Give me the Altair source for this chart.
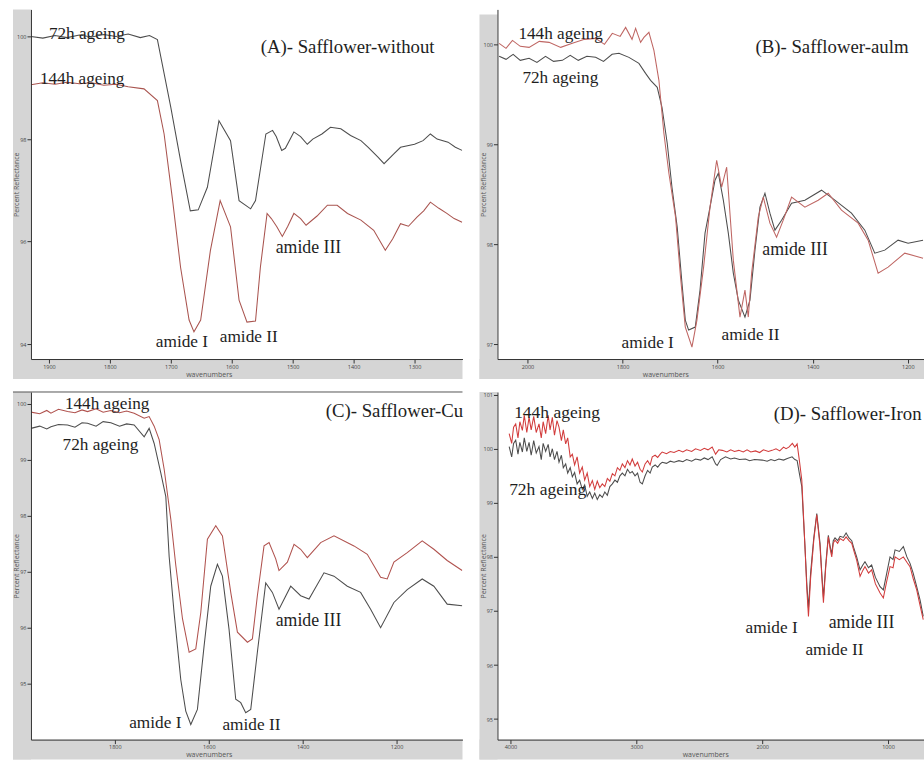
import altair as alt
import pandas as pd

# ---------------- data (wavenumber, percent reflectance) ----------------
A_72 = [(1929.5, 100.0), (1910, 99.97), (1890, 100.02), (1870, 99.98), (1850, 100.03), (1830, 99.99),
        (1810, 100.04), (1790, 100.0), (1770, 100.05), (1750, 99.98), (1735, 100.02), (1722, 99.94),
        (1700, 98.62), (1684, 97.58), (1668, 96.6), (1655, 96.62), (1640, 97.06), (1621, 98.36),
        (1602, 97.97), (1588, 96.8), (1569, 96.64), (1561, 96.8), (1544, 98.1), (1533, 98.17),
        (1527, 98.05), (1518, 97.78), (1512, 97.82), (1498, 98.14), (1487, 98.05), (1476, 97.9),
        (1467, 98.0), (1452, 98.1), (1438, 98.23), (1421, 98.2), (1405, 98.07), (1388, 97.97),
        (1376, 97.84), (1360, 97.65), (1350, 97.52), (1334, 97.71), (1323, 97.84), (1300, 97.9),
        (1286, 97.97), (1274, 98.1), (1263, 98.0), (1245, 97.94), (1233, 97.84), (1222, 97.78)]
A_144 = [(1929.5, 99.06), (1910, 99.1), (1890, 99.07), (1870, 99.11), (1850, 99.08), (1830, 99.1),
         (1810, 99.05), (1790, 99.07), (1770, 99.02), (1744, 98.98), (1722, 98.75), (1711, 98.1),
         (1697, 96.8), (1684, 95.5), (1670, 94.47), (1662, 94.24), (1651, 94.47), (1635, 95.83),
         (1619, 96.8), (1602, 96.29), (1588, 94.86), (1575, 94.43), (1561, 94.45), (1553, 95.5),
         (1542, 96.55), (1535, 96.45), (1526, 96.29), (1517, 96.1), (1508, 96.3), (1498, 96.55),
         (1487, 96.45), (1478, 96.32), (1460, 96.5), (1443, 96.71), (1427, 96.71), (1410, 96.55),
         (1388, 96.42), (1367, 96.22), (1348, 95.83), (1336, 96.05), (1323, 96.35), (1310, 96.3),
         (1296, 96.48), (1285, 96.6), (1274, 96.77), (1260, 96.65), (1247, 96.55), (1235, 96.45),
         (1222, 96.38)]

B_72 = [(2059.5, 99.88), (2045, 99.85), (2030, 99.9), (2015, 99.84), (1996.5, 99.86), (1980, 99.82),
        (1962, 99.88), (1945, 99.83), (1926.5, 99.84), (1910, 99.89), (1893, 99.84), (1875, 99.88),
        (1856.5, 99.87), (1840, 99.83), (1822, 99.9), (1807.5, 99.91), (1786.5, 99.87), (1765.5, 99.81),
        (1751.5, 99.71), (1741, 99.64), (1727, 99.57), (1717, 99.37), (1706, 99.01), (1696, 98.57),
        (1685, 98.17), (1675, 97.61), (1668, 97.24), (1661, 97.14), (1647, 97.17), (1637, 97.54),
        (1626.5, 98.11), (1616, 98.37), (1605.5, 98.64), (1598.5, 98.71), (1588, 98.44), (1577.5, 98.11),
        (1567, 97.71), (1556.5, 97.44), (1542.5, 97.27), (1532, 97.44), (1521.5, 97.94), (1511, 98.37),
        (1500.5, 98.51), (1490, 98.31), (1479.5, 98.14), (1465.5, 98.24), (1444.5, 98.41), (1416.5, 98.44),
        (1381.5, 98.54), (1353.5, 98.44), (1318.5, 98.31), (1290.5, 98.14), (1269.5, 97.91), (1248.5, 97.94),
        (1220.5, 98.04), (1199.5, 98.01), (1168, 98.04)]
B_144 = [(2059.5, 100.01), (2045, 99.96), (2031.5, 100.04), (2015, 99.98), (1996.5, 99.97), (1975, 100.03),
         (1954.5, 100.02), (1930, 99.97), (1905.5, 100.01), (1880, 100.05), (1856.5, 100.06), (1838, 100.0),
         (1821.5, 100.11), (1805, 100.08), (1793.5, 100.17), (1780, 100.05), (1772.5, 100.16), (1762, 100.02),
         (1755, 100.07), (1744.5, 100.12), (1734, 99.94), (1723.5, 99.64), (1713, 99.11), (1702.5, 98.71),
         (1688.5, 98.27), (1678, 97.67), (1668, 97.17), (1654, 96.97), (1643.5, 97.24), (1629.5, 97.77),
         (1616, 98.37), (1602, 98.84), (1591.5, 98.57), (1581, 98.77), (1567, 97.84), (1553, 97.27),
         (1542.5, 97.54), (1535.5, 97.27), (1528.5, 97.71), (1514.5, 98.27), (1504, 98.47), (1490, 98.21),
         (1476, 98.07), (1462, 98.24), (1444.5, 98.47), (1416.5, 98.37), (1388.5, 98.44), (1367.5, 98.51),
         (1339.5, 98.34), (1304.5, 98.21), (1283.5, 98.04), (1262.5, 97.71), (1241.5, 97.77), (1206.5, 97.91),
         (1168, 97.86)]

C_72 = [(1978.7, 99.56), (1960, 99.6), (1945, 99.55), (1936.2, 99.59), (1920, 99.63), (1900.7, 99.62),
        (1885, 99.58), (1870, 99.66), (1858.2, 99.65), (1840, 99.6), (1825, 99.68), (1808.5, 99.66),
        (1790, 99.6), (1775, 99.64), (1758.9, 99.62), (1737.6, 99.41), (1727, 99.56), (1716.3, 99.29),
        (1702.1, 98.76), (1691.5, 98.34), (1684.4, 97.27), (1673.8, 96.26), (1659.6, 95.07), (1649, 94.51),
        (1638.3, 94.27), (1624.2, 94.54), (1610, 95.67), (1595.8, 96.74), (1581.6, 97.13), (1570.9, 96.92),
        (1556.8, 95.97), (1542.6, 94.72), (1531.9, 94.66), (1521.3, 94.48), (1510.6, 94.54), (1496.5, 95.56),
        (1478.7, 96.8), (1464.5, 96.63), (1450.4, 96.33), (1425.5, 96.74), (1404.3, 96.57), (1386.5, 96.51),
        (1354.6, 96.98), (1333.3, 96.92), (1304.9, 96.74), (1276.6, 96.63), (1255.3, 96.33), (1234, 96.0),
        (1205.7, 96.45), (1177.3, 96.68), (1145.4, 96.87), (1120.6, 96.74), (1092.2, 96.42), (1060.3, 96.39)]
C_144 = [(1978.7, 99.85), (1960, 99.82), (1945, 99.88), (1936.2, 99.83), (1920, 99.9), (1900.7, 99.86),
         (1885, 99.84), (1870, 99.89), (1858.2, 99.86), (1840, 99.91), (1825, 99.85), (1808.5, 99.88),
         (1790, 99.84), (1775, 99.87), (1758.9, 99.83), (1737.6, 99.74), (1727, 99.77), (1716.3, 99.6),
         (1705.7, 99.36), (1695, 98.83), (1680.9, 97.94), (1670.2, 97.11), (1656, 96.16), (1641.8, 95.56),
         (1627.7, 95.62), (1617, 96.27), (1602.9, 97.58), (1585.1, 97.82), (1570.9, 97.64), (1553.2, 96.63),
         (1539, 95.92), (1517.7, 95.74), (1507.1, 95.8), (1496.5, 96.57), (1482.3, 97.46), (1471.6, 97.52),
         (1457.4, 97.23), (1450.4, 97.02), (1432.6, 97.17), (1418.4, 97.49), (1404.3, 97.4), (1390.1, 97.25),
         (1361.7, 97.52), (1333.3, 97.64), (1290.8, 97.46), (1262.4, 97.31), (1234, 96.9), (1219.9, 96.87),
         (1205.7, 97.17), (1177.3, 97.34), (1145.4, 97.55), (1120.6, 97.4), (1092.2, 97.2), (1060.3, 97.02)]

D_72 = [(4010, 100.04), (3990, 99.85), (3975, 100.1), (3958, 100.16), (3940, 99.9), (3925, 100.12),
        (3905, 99.94), (3890, 100.2), (3870, 99.95), (3852, 100.12), (3835, 99.88), (3815, 100.15),
        (3795, 99.92), (3773, 100.04), (3755, 99.8), (3740, 100.1), (3720, 99.95), (3700, 100.08),
        (3685, 99.85), (3667, 100.0), (3650, 99.8), (3630, 99.95), (3614, 99.75), (3595, 99.88),
        (3580, 99.65), (3561, 99.72), (3545, 99.55), (3525, 99.65), (3508, 99.48), (3490, 99.56),
        (3470, 99.35), (3450, 99.42), (3429, 99.25), (3410, 99.33), (3390, 99.12), (3370, 99.2),
        (3349, 99.08), (3330, 99.18), (3310, 99.06), (3290, 99.15), (3270, 99.1), (3250, 99.2),
        (3230, 99.14), (3210, 99.3), (3190, 99.35), (3170, 99.42), (3150, 99.38), (3130, 99.5),
        (3111, 99.55), (3090, 99.5), (3070, 99.62), (3050, 99.55), (3032, 99.58), (3010, 99.5),
        (2990, 99.55), (2970, 99.38), (2952, 99.35), (2930, 99.5), (2910, 99.6), (2890, 99.55),
        (2873, 99.66), (2850, 99.7), (2830, 99.66), (2810, 99.72), (2794, 99.75), (2760, 99.73),
        (2730, 99.77), (2700, 99.75), (2661, 99.78), (2630, 99.76), (2600, 99.8), (2560, 99.77),
        (2529, 99.81), (2490, 99.79), (2460, 99.83), (2430, 99.8), (2397, 99.85), (2370, 99.72),
        (2357, 99.69), (2330, 99.8), (2291, 99.85), (2250, 99.81), (2220, 99.83), (2180, 99.8),
        (2132, 99.81), (2100, 99.78), (2060, 99.8), (1999, 99.79), (1960, 99.77), (1930, 99.8),
        (1900, 99.78), (1867, 99.81), (1830, 99.79), (1800, 99.82), (1762, 99.85), (1740, 99.8),
        (1722, 99.78), (1704, 99.54), (1685, 99.3), (1660, 98.2), (1645, 97.5), (1632, 97.05),
        (1615, 97.7), (1590, 98.35), (1566, 98.8), (1540, 98.25), (1525, 97.65), (1513, 97.25),
        (1495, 97.85), (1474, 98.4), (1460, 98.2), (1447, 98.05), (1435, 98.3), (1421, 98.35),
        (1400, 98.3), (1381, 98.38), (1355, 98.36), (1333, 98.44), (1310, 98.35), (1288, 98.3),
        (1270, 98.15), (1249, 98.0), (1222, 97.76), (1200, 97.85), (1183, 97.91), (1155, 97.8),
        (1130, 97.85), (1100, 97.62), (1063, 97.45), (1037, 97.39), (1010, 97.7), (984, 98.0),
        (960, 97.95), (944, 98.13), (910, 98.1), (878, 98.19), (850, 98.0), (825, 97.88),
        (800, 97.7), (772, 97.45), (745, 97.2), (720, 96.9)]
D_144 = [(4010, 100.28), (3990, 100.1), (3975, 100.4), (3958, 100.46), (3940, 100.2), (3925, 100.5),
         (3905, 100.34), (3890, 100.62), (3870, 100.3), (3852, 100.58), (3835, 100.35), (3815, 100.6),
         (3795, 100.3), (3773, 100.46), (3755, 100.2), (3740, 100.5), (3720, 100.28), (3700, 100.62),
         (3685, 100.35), (3667, 100.58), (3650, 100.25), (3630, 100.52), (3614, 100.4), (3595, 100.15),
         (3580, 100.35), (3561, 100.09), (3545, 100.2), (3525, 99.85), (3508, 99.9), (3490, 99.7),
         (3470, 99.85), (3450, 99.55), (3429, 99.66), (3410, 99.42), (3390, 99.55), (3370, 99.3),
         (3349, 99.41), (3330, 99.25), (3310, 99.4), (3290, 99.28), (3270, 99.35), (3250, 99.3),
         (3230, 99.45), (3210, 99.4), (3190, 99.54), (3170, 99.5), (3150, 99.65), (3130, 99.6),
         (3111, 99.72), (3090, 99.65), (3070, 99.78), (3050, 99.7), (3032, 99.81), (3010, 99.68),
         (2990, 99.75), (2970, 99.62), (2952, 99.57), (2930, 99.72), (2910, 99.78), (2890, 99.7),
         (2873, 99.85), (2850, 99.88), (2830, 99.84), (2810, 99.9), (2794, 99.94), (2760, 99.91),
         (2730, 99.95), (2700, 99.93), (2661, 99.97), (2630, 99.94), (2600, 99.98), (2560, 99.95),
         (2529, 100.0), (2490, 99.97), (2460, 100.01), (2430, 99.98), (2397, 100.03), (2370, 99.9),
         (2345, 99.98), (2317, 99.97), (2280, 99.94), (2250, 99.98), (2220, 99.95), (2185, 99.97),
         (2150, 99.94), (2120, 99.98), (2090, 99.94), (2053, 99.96), (2020, 99.93), (1990, 99.98),
         (1950, 99.95), (1921, 99.97), (1890, 100.0), (1860, 99.96), (1830, 100.03), (1810, 100.0),
         (1788, 100.03), (1760, 100.1), (1740, 100.03), (1722, 100.09), (1704, 99.78), (1685, 99.42),
         (1660, 98.2), (1645, 97.4), (1632, 96.9), (1615, 97.6), (1590, 98.3), (1566, 98.78),
         (1540, 98.19), (1525, 97.6), (1513, 97.15), (1495, 97.8), (1474, 98.37), (1460, 98.15),
         (1447, 98.0), (1435, 98.25), (1421, 98.31), (1400, 98.25), (1381, 98.34), (1355, 98.3),
         (1333, 98.37), (1310, 98.3), (1288, 98.25), (1270, 98.1), (1249, 97.94), (1222, 97.64),
         (1200, 97.75), (1183, 97.82), (1155, 97.7), (1130, 97.76), (1100, 97.5), (1063, 97.33),
         (1037, 97.24), (1010, 97.55), (984, 97.82), (960, 97.8), (944, 98.0), (910, 97.95),
         (878, 98.0), (850, 97.9), (825, 97.82), (800, 97.6), (772, 97.39), (745, 97.1), (720, 96.84)]

# annotations: (label, wavenumber, reflectance, font size)
A_TEXT = [("72h ageing", 1900, 99.96, 17.2), ("144h ageing", 1914.8, 99.08, 17.2),
          ("(A)- Safflower-without", 1552.5, 99.67, 18.8),
          ("amide I", 1724.6, 93.94, 17.3), ("amide II", 1619.7, 94.04, 17.3), ("amide III", 1527.9, 95.77, 17.8)]
B_TEXT = [("144h ageing", 2018.9, 100.05, 17.2), ("72h ageing", 2010.5, 99.61, 17.2),
          ("(B)- Safflower-aulm", 1520.4, 99.91, 18.8),
          ("amide I", 1801.9, 96.96, 17.3), ("amide II", 1591.9, 97.04, 17.3), ("amide III", 1506, 97.89, 17.8)]
C_TEXT = [("144h ageing", 1906.4, 99.9, 17.2), ("72h ageing", 1911.3, 99.18, 17.2),
          ("(C)- Safflower-Cu", 1351, 99.77, 18.8),
          ("amide I", 1769.5, 94.21, 17.3), ("amide II", 1570.9, 94.18, 17.3), ("amide III", 1457.4, 96.03, 17.8)]
D_TEXT = [("144h ageing", 3970.6, 100.56, 17.5), ("72h ageing", 4010.3, 99.14, 17.5),
          ("(D)- Safflower-Iron", 1907.4, 100.53, 18.8),
          ("amide I", 2132.5, 96.59, 17.3), ("amide II", 1656.5, 96.19, 17.3), ("amide III", 1471, 96.68, 17.8)]

A_XTICKS = [1900, 1800, 1700, 1600, 1500, 1400, 1300]
B_XTICKS = [2000, 1800, 1600, 1400, 1200]
C_XTICKS = [1800, 1600, 1400, 1200]
D_XTICKS = [4000, 3000, 2000, 1000]
A_YTICKS = [94, 96, 98, 100]
B_YTICKS = [97, 98, 99, 100]
C_YTICKS = [95, 96, 97, 98, 99, 100]
D_YTICKS = [95, 96, 97, 98, 99, 100, 101]

GRAY = "#4d4d4d"
STRIP = "#d5d5d5"
AXC = "#333333"


def panel(s72, s144, red, xdom, ydom, xticks, yticks, W, H, texts, title_x, strip_top=0, top_rule=False):
    xs = alt.Scale(domain=xdom, reverse=True, nice=False, zero=False)
    ys = alt.Scale(domain=ydom, nice=False, zero=False)
    xax = alt.Axis(values=xticks, title="wavenumbers", grid=False, tickSize=4, tickColor=AXC,
                   domainColor=AXC, labelFontSize=5.5, labelColor="#444", labelPadding=1,
                   labelFont="Open Sans", labelFlush=False, titleFont="Open Sans", titleFontSize=7,
                   titleFontWeight="normal", titleColor="#555", titleX=title_x, titleY=15,
                   titleBaseline="middle", zindex=1, format="d")
    yax = alt.Axis(values=yticks, title="Percent Reflectance", grid=False, tickSize=4, tickColor=AXC,
                   domainColor=AXC, labelFontSize=5.5, labelColor="#444", labelPadding=1,
                   labelFont="Open Sans", labelFlush=False, titleFont="Open Sans", titleFontSize=7,
                   titleFontWeight="normal", titleColor="#555", titleX=-11, titleBaseline="bottom",
                   zindex=1, format="d")
    xe = alt.X("wn:Q", scale=xs, axis=xax)
    ye = alt.Y("pr:Q", scale=ys, axis=yax)

    bg = pd.DataFrame({"k": [0]})
    left_strip = alt.Chart(bg).mark_rect(fill=STRIP, opacity=1, strokeWidth=0).encode(
        x=alt.value(-18), x2=alt.value(0), y=alt.value(strip_top), y2=alt.value(H + 20))
    bottom_strip = alt.Chart(bg).mark_rect(fill=STRIP, opacity=1, strokeWidth=0).encode(
        x=alt.value(-18), x2=alt.value(W), y=alt.value(H), y2=alt.value(H + 20))

    d72 = pd.DataFrame(s72, columns=["wn", "pr"])
    d144 = pd.DataFrame(s144, columns=["wn", "pr"])
    l72 = alt.Chart(d72).mark_line(color=GRAY, strokeWidth=1.05, clip=True).encode(x=xe, y=ye)
    l144 = alt.Chart(d144).mark_line(color=red, strokeWidth=1.05, clip=True).encode(x=xe, y=ye)

    dt = pd.DataFrame(texts, columns=["label", "wn", "pr", "fs"])
    txt = alt.Chart(dt).mark_text(font="Liberation Serif", align="left",
                                  baseline="alphabetic", color="#1e1e1e").encode(
        x=xe, y=ye, text="label:N", size=alt.Size("fs:Q", scale=None, legend=None))

    layers = [left_strip, bottom_strip]
    if top_rule:
        layers.append(alt.Chart(bg).mark_rule(color="#555", strokeWidth=1).encode(
            x=alt.value(-18), x2=alt.value(W), y=alt.value(0)))
    layers += [l72, l144, txt]
    return alt.layer(*layers).properties(width=W, height=H)


pa = panel(A_72, A_144, "#a9544f", [1221.3, 1929.5], [93.71, 100.53], A_XTICKS, A_YTICKS,
           432, 350, A_TEXT, 178)
pb = panel(B_72, B_144, "#bf6663", [1166, 2063], [96.85, 100.35], B_XTICKS, B_YTICKS,
           427, 350, B_TEXT, 168, strip_top=5)
pc = panel(C_72, C_144, "#b0524e", [1059.6, 1978.7], [94.0, 100.21], C_XTICKS, C_YTICKS,
           432, 348, C_TEXT, 178, top_rule=True)
pd_ = panel(D_72, D_144, "#d23c3c", [714, 4103], [94.62, 101.05], D_XTICKS, D_YTICKS,
            427, 348, D_TEXT, 208)

chart = alt.concat(pa, pb, pc, pd_, columns=2, spacing={"row": 33, "column": 35}, bounds="flush").properties(
    padding={"left": 12, "top": 9, "right": 0, "bottom": 0}
).configure(background="white", view=alt.ViewConfig(strokeWidth=0, stroke="transparent"))

chart.save("out.html", embed_options={"renderer": "svg", "actions": False})
